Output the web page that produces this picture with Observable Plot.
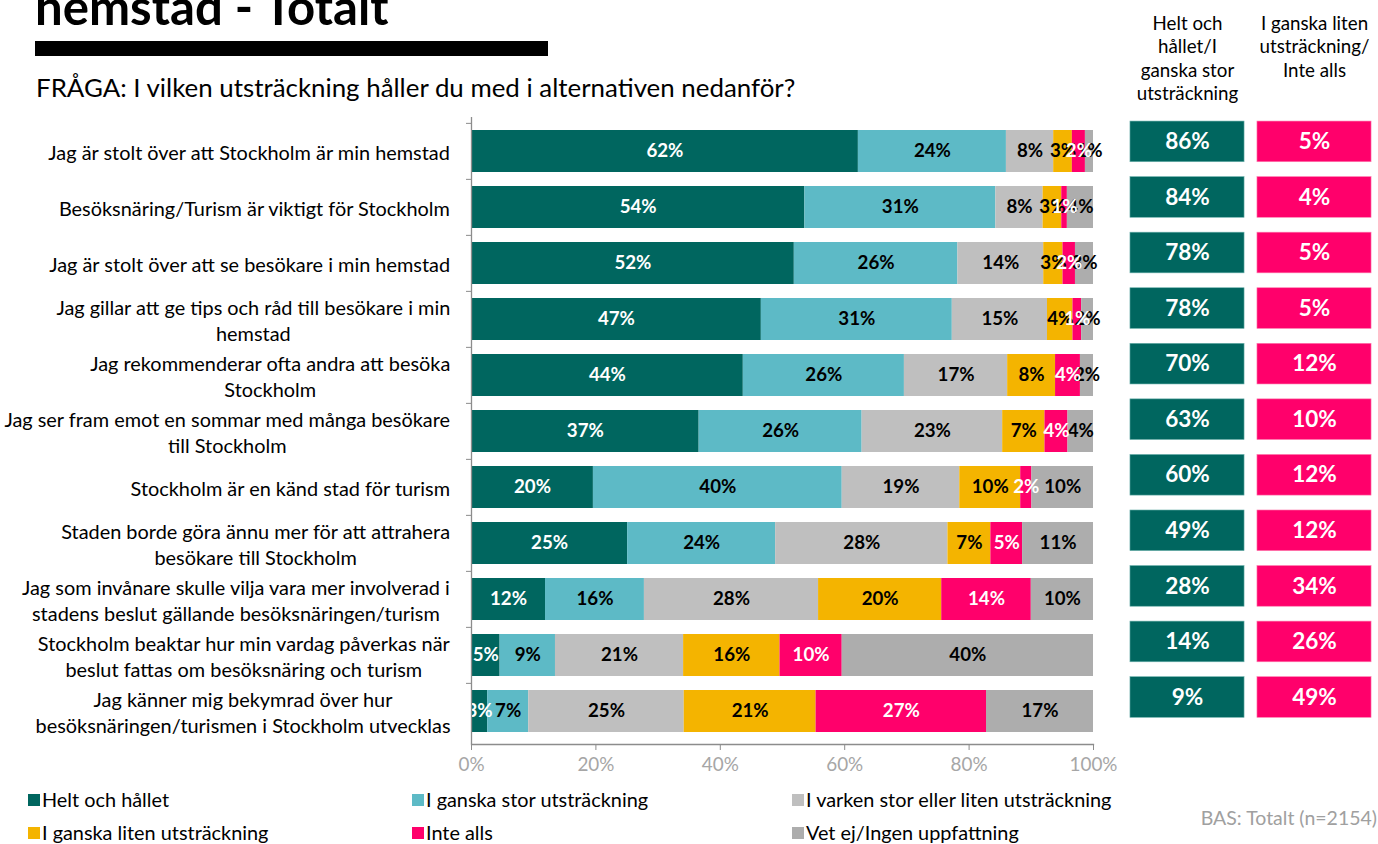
<!DOCTYPE html>
<html><head><meta charset="utf-8">
<script src="https://cdn.jsdelivr.net/npm/d3@7"></script>
<script src="https://cdn.jsdelivr.net/npm/@observablehq/plot@0.6"></script>
<style>
body{margin:0;background:#fff;}
#root{position:relative;width:1378px;height:844px;overflow:hidden;font-family:Lato,sans-serif;}
#main,#side,#overlay{position:absolute;top:0;}
#main{left:0} #side{left:1124px}
#overlay{left:0;pointer-events:none}
</style></head><body>
<div id="root"><div id="main"></div><div id="side"></div><svg id="overlay" width="1378" height="844"></svg></div>
<script>
const FONT = "Lato";

// ---------- data ----------
const title = "hemstad - Totalt";
const question = "FRÅGA: I vilken utsträckning håller du med i alternativen nedanför?";
const baseNote = "BAS: Totalt (n=2154)";
const statements = [
  "Jag är stolt över att Stockholm är min hemstad",
  "Besöksnäring/Turism är viktigt för Stockholm",
  "Jag är stolt över att se besökare i min hemstad",
  "Jag gillar att ge tips och råd till besökare i min\nhemstad",
  "Jag rekommenderar ofta andra att besöka\nStockholm",
  "Jag ser fram emot en sommar med många besökare\ntill Stockholm",
  "Stockholm är en känd stad för turism",
  "Staden borde göra ännu mer för att attrahera\nbesökare till Stockholm",
  "Jag som invånare skulle vilja vara mer involverad i\nstadens beslut gällande besöksnäringen/turism",
  "Stockholm beaktar hur min vardag påverkas när\nbeslut fattas om besöksnäring och turism",
  "Jag känner mig bekymrad över hur\nbesöksnäringen/turismen i Stockholm utvecklas"
];
const categories = [
  "Helt och hållet",
  "I ganska stor utsträckning",
  "I varken stor eller liten utsträckning",
  "I ganska liten utsträckning",
  "Inte alls",
  "Vet ej/Ingen uppfattning"
];
const colors = ["#00665F", "#5DBAC6", "#BFBFBF", "#F4B400", "#FF006B", "#ADADAD"];
const whiteTextCategories = ["Helt och hållet", "Inte alls"];

const heltOchHallet = [62.2, 53.6, 51.9, 46.6, 43.7, 36.6, 19.6, 25.1, 11.9, 4.6, 2.6];
const ganskaStor    = [23.8, 30.7, 26.3, 30.7, 25.9, 26.2, 40.0, 23.8, 15.9, 8.9, 6.6];
const varken        = [7.6, 7.6, 13.8, 15.3, 16.6, 22.6, 18.9, 27.7, 28.0, 20.6, 25.0];
const ganskaLiten   = [3.0, 3.0, 3.1, 4.1, 7.7, 6.8, 9.8, 6.9, 19.8, 15.5, 21.2];
const inteAlls      = [2.1, 0.9, 2.0, 1.4, 4.0, 3.7, 1.8, 5.1, 14.4, 10.0, 27.4];
const vetEj         = [1.3, 4.2, 2.9, 1.9, 2.1, 4.1, 9.9, 11.4, 10.0, 40.4, 17.2];
const seriesValues = [heltOchHallet, ganskaStor, varken, ganskaLiten, inteAlls, vetEj];

const summaryKeys = ["top2", "bottom2"];
const summaryHeaders = ["Helt och\nhållet/I\nganska stor\nutsträckning", "I ganska liten\nutsträckning/\nInte alls"];
const top2Values = [86, 84, 78, 78, 70, 63, 60, 49, 28, 14, 9];
const bottom2Values = [5, 4, 5, 5, 12, 10, 12, 12, 34, 26, 49];
const summaryColors = ["#00665F", "#FF006B"];

const xTicks = [0, 20, 40, 60, 80, 100];

// ---------- helpers ----------
const ctx = document.createElement("canvas").getContext("2d");
function measure(text, size, weight = "normal") {
  ctx.font = `${weight} ${size}px ${FONT}`;
  return ctx.measureText(text).width;
}
function fit(text, target, weight = "normal") {
  return 100 * target / measure(text, 100, weight);
}
const pct = v => Math.round(v) + "%";

// ---------- sizes ----------
const yLabelSize = fit("Jag är stolt över att Stockholm är min hemstad", 403);
const valueSize = fit("24%", 37, "bold");
const summarySize = fit("86%", 45, "bold");
const headerSize = fit("utsträckning/", 111);
const tickSize = fit("100%", 48);

// ---------- rows ----------
const rows = [];
statements.forEach((s, i) => categories.forEach((c, j) => rows.push({statement: s, category: c, value: seriesValues[j][i]})));

// ---------- main chart ----------
const W = 1124, H = 780, MT = 117, MB = 36, ML = 471, MR = 31;
const step = (H - MT - MB) / (statements.length - 0.254 + 0.4);

const yLabelMarks = statements.map(s => {
  const w = d3.max(s.split("\n"), l => measure(l, yLabelSize));
  return Plot.text([s], {y: d => d, frameAnchor: "left", textAnchor: "middle", dx: -21 - w / 2,
    fontSize: yLabelSize, lineHeight: 1.3, fill: "#000"});
});

const main = Plot.plot({
  width: W, height: H, marginTop: MT, marginBottom: MB, marginLeft: ML, marginRight: MR,
  style: {fontFamily: FONT, background: "transparent"},
  x: {domain: [0, 100]},
  y: {domain: statements, paddingInner: 0.254, paddingOuter: 0.2},
  color: {domain: categories, range: colors},
  marks: [
    Plot.barX(rows, Plot.stackX({x: "value", y: "statement", fill: "category", z: "category"})),
    Plot.text(rows, Plot.stackX({x: "value", y: "statement", z: "category",
      text: d => whiteTextCategories.includes(d.category) ? null : pct(d.value),
      fill: "#000", fontWeight: "bold", fontSize: valueSize})),
    Plot.text(rows, Plot.stackX({x: "value", y: "statement", z: "category",
      text: d => whiteTextCategories.includes(d.category) ? pct(d.value) : null,
      fill: "#fff", fontWeight: "bold", fontSize: valueSize})),
    Plot.ruleX([0], {stroke: "#8c8c8c", strokeWidth: 1.3}),
    Plot.frame({anchor: "bottom", stroke: "#8c8c8c", strokeWidth: 1.3}),
    Plot.axisY({tickFormat: () => "", tickSize: 5, dy: -step / 2, stroke: "#8c8c8c", label: null}),
    Plot.axisX({ticks: xTicks, tickFormat: d => d + "%", tickSize: 6, tickPadding: 7,
      stroke: "#8c8c8c", fill: "#A6A6A6", fontSize: tickSize, label: null}),
    ...yLabelMarks
  ]
});
document.getElementById("main").appendChild(main);

// ---------- summary columns ----------
const W2 = 256, MT2 = 109, MB2 = 44;
const side = Plot.plot({
  width: W2, height: H, marginTop: MT2, marginBottom: MB2, marginLeft: 0, marginRight: 0,
  style: {fontFamily: FONT, background: "transparent"},
  x: {domain: summaryKeys, paddingInner: 0.1, paddingOuter: 0.05, axis: null},
  y: {domain: statements, paddingInner: 0.27, paddingOuter: 0.208, axis: null},
  marks: [
    Plot.cell(statements, {x: () => summaryKeys[0], y: d => d, fill: summaryColors[0], stroke: "#6fb3ae", strokeWidth: 0.6}),
    Plot.cell(statements, {x: () => summaryKeys[1], y: d => d, fill: summaryColors[1], stroke: "#ff7fb0", strokeWidth: 0.6}),
    Plot.text(statements, {x: () => summaryKeys[0], y: d => d, text: (d, i) => top2Values[i] + "%",
      fill: "#fff", fontWeight: "bold", fontSize: summarySize}),
    Plot.text(statements, {x: () => summaryKeys[1], y: d => d, text: (d, i) => bottom2Values[i] + "%",
      fill: "#fff", fontWeight: "bold", fontSize: summarySize}),
    Plot.text(summaryKeys, {x: d => d, text: (d, i) => summaryHeaders[i], frameAnchor: "top", lineAnchor: "top",
      dy: -(MT2 - 13), fontSize: headerSize, lineHeight: 23.5 / headerSize, fill: "#000"})
  ]
});
document.getElementById("side").appendChild(side);

// ---------- header, legend, note ----------
const svg = d3.select("#overlay").style("font-family", FONT);
svg.append("text").attr("x", 35).attr("y", 25).attr("font-weight", "bold")
  .attr("font-size", fit(title, 355, "bold")).text(title);
svg.append("rect").attr("x", 35).attr("y", 41).attr("width", 513).attr("height", 15).attr("fill", "#000");
svg.append("text").attr("x", 36).attr("y", 88).attr("dy", "0.35em")
  .attr("font-size", fit(question, 761)).text(question);

const legendSize = fit("I varken stor eller liten utsträckning", 307);
const legendX = [28, 412, 792];
const legendY = [800, 833];
categories.forEach((c, i) => {
  const x = legendX[i % 3], y = legendY[Math.floor(i / 3)];
  svg.append("rect").attr("x", x).attr("y", y - 6).attr("width", 12).attr("height", 12).attr("fill", colors[i]);
  svg.append("text").attr("x", x + 14).attr("y", y).attr("dy", "0.35em").attr("font-size", legendSize).text(c);
});
svg.append("text").attr("x", 1377).attr("y", 818).attr("dy", "0.35em").attr("text-anchor", "end")
  .attr("fill", "#A0A0A0").attr("font-size", fit(baseNote, 177)).text(baseNote);
</script>
</body></html>
